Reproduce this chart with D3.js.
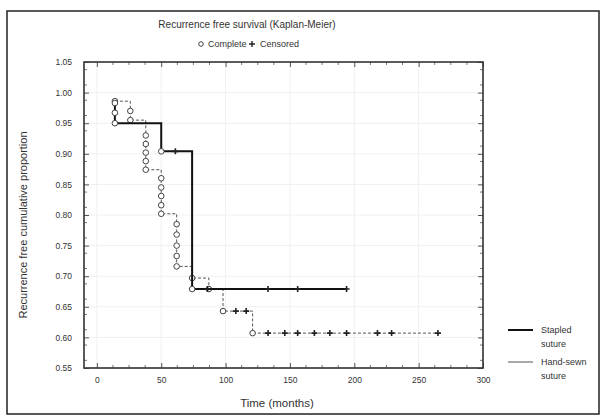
<!DOCTYPE html>
<html><head><meta charset="utf-8">
<script src="https://cdn.jsdelivr.net/npm/d3@7"></script>
<style>body{margin:0;background:#fff}text{font-family:"Liberation Sans",Arial,sans-serif;fill:#333}</style>
</head><body>
<svg id="c" width="606" height="417"></svg>
<script>
// ---- data ----
const title = "Recurrence free survival (Kaplan-Meier)";
const xTitle = "Time (months)";
const yTitle = "Recurrence free cumulative proportion";
const xTicks = [0, 50, 100, 150, 200, 250, 300];
const yTicks = [0.55, 0.60, 0.65, 0.70, 0.75, 0.80, 0.85, 0.90, 0.95, 1.00, 1.05];
const groups = ["Stapled suture", "Hand-sewn suture"];

// Stapled suture: time (months), cumulative proportion, censored flag
const stapledTime = [14, 14, 14, 50, 61, 74, 86, 133, 156, 194];
const stapledSurv = [0.983, 0.967, 0.950, 0.904, 0.904, 0.679, 0.679, 0.679, 0.679, 0.679];
const stapledCens = [0, 0, 0, 0, 1, 0, 1, 1, 1, 1];

// Hand-sewn suture
const handTime = [14, 26, 26, 38, 38, 38, 38, 38, 50, 50, 50, 50, 50, 62, 62, 62, 62, 62, 74, 87, 98, 108, 116, 121,
                  133, 146, 156, 169, 181, 194, 218, 229, 265];
const handSurv = [0.986, 0.970, 0.955, 0.930, 0.916, 0.902, 0.888, 0.874, 0.860, 0.845, 0.831, 0.816, 0.802,
                  0.785, 0.768, 0.750, 0.733, 0.716, 0.697, 0.679, 0.643, 0.643, 0.643, 0.607,
                  0.607, 0.607, 0.607, 0.607, 0.607, 0.607, 0.607, 0.607, 0.607];
const handCens = [0,0,0,0,0,0,0,0,0,0,0,0,0,0,0,0,0,0,0,0,0,1,1,0, 1,1,1,1,1,1,1,1,1];

// ---- drawing ----
const svg = d3.select("#c");
const L = 84, R = 483, T = 62, B = 368;
const x = d3.scaleLinear().domain([-10, 300]).range([L, R]);
const y = d3.scaleLinear().domain([0.55, 1.05]).range([B, T]);

svg.append("rect").attr("x", 7).attr("y", 11).attr("width", 592).attr("height", 403)
  .attr("fill", "none").attr("stroke", "#222").attr("stroke-width", 1.5);

// faint grid
const g = svg.append("g");
g.selectAll(".gx").data(xTicks).join("line").attr("x1", d => x(d)).attr("x2", d => x(d))
  .attr("y1", T).attr("y2", B).attr("stroke", "#f0f0f0");
g.selectAll(".gy").data(yTicks).join("line").attr("y1", d => y(d)).attr("y2", d => y(d))
  .attr("x1", L).attr("x2", R).attr("stroke", "#f0f0f0");

// axes (ticks inward)
const xAxB = d3.axisBottom(x).tickValues(xTicks).tickFormat(d3.format("d")).tickSize(-5).tickPadding(9);
const yAxL = d3.axisLeft(y).tickValues(yTicks).tickFormat(d3.format(".2f")).tickSize(-5).tickPadding(12);
const gxb = svg.append("g").attr("transform", `translate(0,${B})`).call(xAxB);
const gyl = svg.append("g").attr("transform", `translate(${L},0)`).call(yAxL);
const gxt = svg.append("g").attr("transform", `translate(0,${T})`).call(d3.axisTop(x).tickValues(xTicks).tickFormat("").tickSize(-5));
const gyr = svg.append("g").attr("transform", `translate(${R},0)`).call(d3.axisRight(y).tickValues(yTicks).tickFormat("").tickSize(-5));
[gxb, gyl, gxt, gyr].forEach(a => {
  a.select(".domain").remove();
  a.selectAll(".tick line").attr("stroke", "#555");
  a.selectAll(".tick text").style("font-size", "8.5px").style("fill", "#333")
   .style("font-family", '"Liberation Sans",Arial,sans-serif');
});
// minor ticks
const xm = d3.range(0, 300, 12.5).filter(v => !xTicks.includes(v));
const ym = d3.range(0.5625, 1.05, 0.025);
const mg = svg.append("g").attr("stroke", "#777");
xm.forEach(v => {
  mg.append("line").attr("x1", x(v)).attr("x2", x(v)).attr("y1", B).attr("y2", B - 3);
  mg.append("line").attr("x1", x(v)).attr("x2", x(v)).attr("y1", T).attr("y2", T + 3);
});
ym.forEach(v => {
  mg.append("line").attr("y1", y(v)).attr("y2", y(v)).attr("x1", L).attr("x2", L + 3);
  mg.append("line").attr("y1", y(v)).attr("y2", y(v)).attr("x1", R).attr("x2", R - 3);
});

svg.append("rect").attr("x", L).attr("y", T).attr("width", R - L).attr("height", B - T)
  .attr("fill", "none").attr("stroke", "#333").attr("stroke-width", 1.6);

// step path
function stepPath(ts, ss) {
  const p = d3.path();
  p.moveTo(x(ts[0]), y(ss[0]));
  for (let i = 1; i < ts.length; i++) {
    p.lineTo(x(ts[i]), y(ss[i - 1]));
    p.lineTo(x(ts[i]), y(ss[i]));
  }
  return p.toString();
}
function drawGroup(ts, ss, cs, width, dash, color) {
  svg.append("path").attr("d", stepPath(ts, ss)).attr("fill", "none")
    .attr("stroke", color).attr("stroke-width", width).attr("stroke-dasharray", dash);
  const pts = ts.map((t, i) => ({t, s: ss[i], c: cs[i]}));
  svg.selectAll(null).data(pts.filter(d => d.c === 1)).join("path")
    .attr("d", d => `M${x(d.t) - 3},${y(d.s)}H${x(d.t) + 3}M${x(d.t)},${y(d.s) - 3}V${y(d.s) + 3}`)
    .attr("stroke", "#222").attr("stroke-width", 1.6);
  svg.selectAll(null).data(pts.filter(d => d.c === 0)).join("circle")
    .attr("cx", d => x(d.t)).attr("cy", d => y(d.s)).attr("r", 2.8)
    .attr("fill", "#fff").attr("stroke", "#444").attr("stroke-width", 1);
}
drawGroup(handTime, handSurv, handCens, 1, "3,2", "#555");
drawGroup(stapledTime, stapledSurv, stapledCens, 2, null, "#111");

// titles
svg.append("text").attr("x", 247).attr("y", 28).attr("text-anchor", "middle").style("font-size", "10px").text(title);
const lg = svg.append("g");
lg.append("circle").attr("cx", 201).attr("cy", 44).attr("r", 2.3).attr("fill", "#fff").attr("stroke", "#444");
lg.append("text").attr("x", 208).attr("y", 47).style("font-size", "9px").text("Complete");
lg.append("path").attr("d", "M249,44H255M252,41V47").attr("stroke", "#222").attr("stroke-width", 1.4);
lg.append("text").attr("x", 260).attr("y", 47).style("font-size", "9px").text("Censored");

svg.append("text").attr("transform", "translate(27,225) rotate(-90)").attr("text-anchor", "middle")
  .style("font-size", "11px").text(yTitle);
svg.append("text").attr("x", 277).attr("y", 407).attr("text-anchor", "middle").style("font-size", "11.5px").text(xTitle);

// right legend
const rl = svg.append("g");
rl.append("line").attr("x1", 508).attr("x2", 533).attr("y1", 330).attr("y2", 330).attr("stroke", "#111").attr("stroke-width", 2);
rl.append("text").attr("x", 541).attr("y", 333).style("font-size", "9px").text("Stapled");
rl.append("text").attr("x", 541).attr("y", 347).style("font-size", "9px").text("suture");
rl.append("line").attr("x1", 508).attr("x2", 533).attr("y1", 362).attr("y2", 362).attr("stroke", "#555").attr("stroke-width", 1);
rl.append("text").attr("x", 541).attr("y", 365).style("font-size", "9px").text("Hand-sewn");
rl.append("text").attr("x", 541).attr("y", 379).style("font-size", "9px").text("suture");
</script>
</body></html>
